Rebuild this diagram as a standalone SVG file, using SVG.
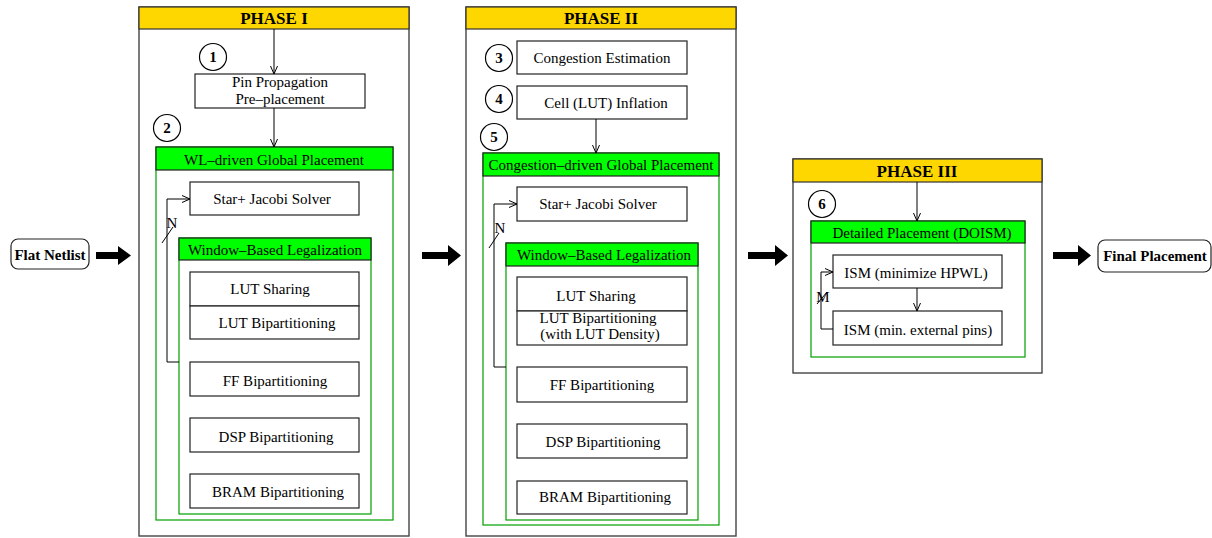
<svg xmlns="http://www.w3.org/2000/svg" width="1212" height="538" viewBox="0 0 1212 538">
<style>
.phase{fill:#fff;stroke:#444;stroke-width:1.4}
.hdr{fill:#FFD700;stroke:#333;stroke-width:1.2}
.grp{fill:none;stroke:#00a000;stroke-width:1.2}
.ghdr{fill:#00FF00;stroke:#222;stroke-width:1.2}
.box{fill:#fff;stroke:#222;stroke-width:1.2}
.circ{fill:#fff;stroke:#000;stroke-width:1.2}
.term{fill:#fff;stroke:#222;stroke-width:1.2}
.t{font-family:"Liberation Serif","Times New Roman",serif;font-size:15px;text-anchor:middle;fill:#000}
.b{font-weight:bold}
.ph{font-size:17px;font-weight:bold}
.ln{fill:none;stroke:#000;stroke-width:1}
.big{fill:#000}
</style>
<defs>
<marker id="v" markerWidth="10" markerHeight="8" refX="9" refY="4" orient="auto" markerUnits="userSpaceOnUse">
<path d="M1,0.5 L9,4 L1,7.5" fill="none" stroke="#000" stroke-width="1"/>
</marker>
</defs>

<g id="flat-netlist">
<rect class="term" x="11" y="239" width="78" height="30" rx="7"/>
<text class="t b" x="50" y="260">Flat Netlist</text>
</g>

<g id="phase1">
<rect class="phase" x="139" y="7" width="270" height="529"/>
<rect class="hdr" x="139" y="7" width="270" height="22"/>
<text class="t ph" x="274" y="24">PHASE I</text>
</g>
<g id="step1">
<circle class="circ" cx="213" cy="57" r="13.5"/>
<text class="t b" x="213" y="62">1</text>
</g>
<g id="pin-propagation">
<rect class="box" x="195" y="74" width="170" height="34"/>
<text class="t" x="280" y="87">Pin Propagation</text>
<text class="t" x="280" y="104">Pre–placement</text>
</g>
<g id="step2">
<circle class="circ" cx="167" cy="128" r="13.5"/>
<text class="t b" x="167" y="133">2</text>
</g>
<g id="wl-global">
<rect class="grp" x="156" y="147" width="237" height="373"/>
<rect class="ghdr" x="156" y="147" width="237" height="23"/>
<text class="t" x="274" y="165">WL–driven Global Placement</text>
</g>
<g id="solver1">
<rect class="box" x="190" y="182" width="169" height="33"/>
<text class="t" x="272" y="204">Star+ Jacobi Solver</text>
</g>
<g id="window1">
<rect class="grp" x="179" y="238" width="192" height="276"/>
<rect class="ghdr" x="179" y="238" width="192" height="22"/>
<text class="t" x="275" y="255">Window–Based Legalization</text>
</g>
<g id="lut-sharing1">
<rect class="box" x="190" y="272" width="169" height="34"/>
<text class="t" x="270" y="294">LUT Sharing</text>
</g>
<g id="lut-bip1">
<rect class="box" x="190" y="306" width="169" height="33"/>
<text class="t" x="277" y="328">LUT Bipartitioning</text>
</g>
<g id="ff-bip1">
<rect class="box" x="190" y="362" width="169" height="34"/>
<text class="t" x="275" y="386">FF Bipartitioning</text>
</g>
<g id="dsp-bip1">
<rect class="box" x="190" y="418" width="169" height="34"/>
<text class="t" x="276" y="442">DSP Bipartitioning</text>
</g>
<g id="bram-bip1">
<rect class="box" x="190" y="474" width="169" height="34"/>
<text class="t" x="278" y="497">BRAM Bipartitioning</text>
</g>

<g id="phase2">
<rect class="phase" x="466" y="7" width="270" height="529"/>
<rect class="hdr" x="466" y="7" width="270" height="22"/>
<text class="t ph" x="601" y="24">PHASE II</text>
</g>
<g id="step3">
<circle class="circ" cx="499" cy="58" r="13.5"/>
<text class="t b" x="499" y="63">3</text>
</g>
<g id="congestion-estimation">
<rect class="box" x="517" y="41" width="170" height="33"/>
<text class="t" x="602" y="63">Congestion Estimation</text>
</g>
<g id="step4">
<circle class="circ" cx="499" cy="99" r="13.5"/>
<text class="t b" x="499" y="104">4</text>
</g>
<g id="cell-inflation">
<rect class="box" x="517" y="86" width="170" height="33"/>
<text class="t" x="606" y="108">Cell (LUT) Inflation</text>
</g>
<g id="step5">
<circle class="circ" cx="494" cy="137" r="13.5"/>
<text class="t b" x="494" y="142">5</text>
</g>
<g id="cong-global">
<rect class="grp" x="483" y="153" width="236" height="372"/>
<rect class="ghdr" x="483" y="153" width="236" height="23"/>
<text class="t" x="601" y="170">Congestion–driven Global Placement</text>
</g>
<g id="solver2">
<rect class="box" x="517" y="187" width="170" height="34"/>
<text class="t" x="598" y="209">Star+ Jacobi Solver</text>
</g>
<g id="window2">
<rect class="grp" x="506" y="243" width="192" height="277"/>
<rect class="ghdr" x="506" y="243" width="192" height="23"/>
<text class="t" x="604" y="260">Window–Based Legalization</text>
</g>
<g id="lut-sharing2">
<rect class="box" x="517" y="277" width="170" height="34"/>
<text class="t" x="596" y="301">LUT Sharing</text>
</g>
<g id="lut-bip2">
<rect class="box" x="517" y="311" width="170" height="34"/>
<text class="t" x="598" y="323">LUT Bipartitioning</text>
<text class="t" x="600" y="339">(with LUT Density)</text>
</g>
<g id="ff-bip2">
<rect class="box" x="517" y="367" width="170" height="35"/>
<text class="t" x="602" y="390">FF Bipartitioning</text>
</g>
<g id="dsp-bip2">
<rect class="box" x="517" y="424" width="170" height="34"/>
<text class="t" x="603" y="447">DSP Bipartitioning</text>
</g>
<g id="bram-bip2">
<rect class="box" x="517" y="481" width="170" height="33"/>
<text class="t" x="605" y="502">BRAM Bipartitioning</text>
</g>

<g id="phase3">
<rect class="phase" x="793" y="159" width="249" height="214"/>
<rect class="hdr" x="793" y="159" width="249" height="23"/>
<text class="t ph" x="917" y="177">PHASE III</text>
</g>
<g id="step6">
<circle class="circ" cx="822" cy="204" r="13.5"/>
<text class="t b" x="822" y="209">6</text>
</g>
<g id="detailed">
<rect class="grp" x="811" y="221" width="214" height="136"/>
<rect class="ghdr" x="811" y="221" width="214" height="22"/>
<text class="t" x="922" y="238">Detailed Placement (DOISM)</text>
</g>
<g id="ism-hpwl">
<rect class="box" x="833" y="255" width="169" height="33"/>
<text class="t" x="916" y="278">ISM (minimize HPWL)</text>
</g>
<g id="ism-pins">
<rect class="box" x="833" y="311" width="169" height="34"/>
<text class="t" x="918" y="335">ISM (min. external pins)</text>
</g>

<g id="final-placement">
<rect class="term" x="1098" y="240" width="113" height="32" rx="7"/>
<text class="t b" x="1155" y="261">Final Placement</text>
</g>

<g id="connectors">
<polygon class="big" points="96,252 118,252 118,246 131,255.5 118,265 118,259 96,259"/>
<polygon class="big" points="422,252 448,252 448,245 461,255.5 448,266 448,259 422,259"/>
<polygon class="big" points="748,252 775,252 775,245 788,255.5 775,266 775,259 748,259"/>
<polygon class="big" points="1053,252 1078,252 1078,245 1091,255.5 1078,266 1078,259 1053,259"/>
<line class="ln" x1="274" y1="29" x2="274" y2="74" marker-end="url(#v)"/>
<line class="ln" x1="274" y1="108" x2="274" y2="147" marker-end="url(#v)"/>
<polyline class="ln" points="179,362 167,362 167,199 190,199" marker-end="url(#v)"/>
<line class="ln" x1="162" y1="243" x2="173" y2="227"/>
<text class="t" x="172" y="228">N</text>
<line class="ln" x1="596" y1="119" x2="596" y2="153" marker-end="url(#v)"/>
<polyline class="ln" points="506,367 494,367 494,204 517,204" marker-end="url(#v)"/>
<line class="ln" x1="489" y1="248" x2="499" y2="233"/>
<text class="t" x="500" y="233">N</text>
<line class="ln" x1="917" y1="182" x2="917" y2="221" marker-end="url(#v)"/>
<line class="ln" x1="917" y1="288" x2="917" y2="311" marker-end="url(#v)"/>
<polyline class="ln" points="833,329 821,329 821,272 833,272" marker-end="url(#v)"/>
<line class="ln" x1="817" y1="304" x2="827" y2="292"/>
<text class="t" x="823" y="302">M</text>
</g>
</svg>
